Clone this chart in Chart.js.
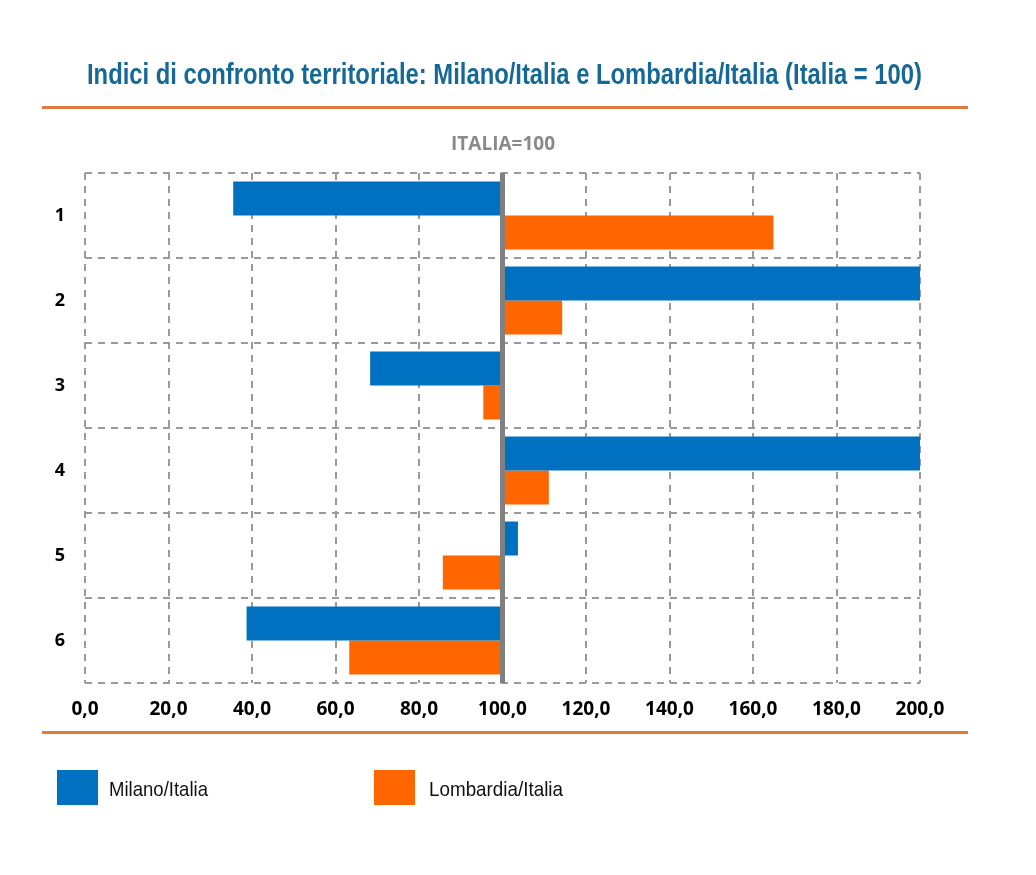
<!DOCTYPE html>
<html>
<head>
<meta charset="utf-8">
<script src="https://cdn.jsdelivr.net/npm/chart.js@4/dist/chart.umd.min.js"></script>
<style>
  html, body { margin: 0; padding: 0; background: #fff; }
  body { width: 1036px; height: 875px; position: relative; overflow: hidden; }
  #wrap { position: absolute; left: 0; top: 0; width: 1036px; height: 875px; }
  .fit { position: absolute; display: inline-block; white-space: nowrap; transform-origin: 0 0; }
  .title { left: 87px; top: 59px; line-height: 30px;
    font-family: "Liberation Sans", Arial, sans-serif; font-weight: bold;
    font-size: 30px; color: #166996; }
  .rule { position: absolute; left: 42px; width: 926px; height: 3px; background: #E07A3C; }
  .sub { position: absolute; left: 403px; width: 200px; top: 134px; line-height: 19px; text-align: center;
    font-family: "Open Sans", sans-serif; font-weight: bold; font-size: 19px; color: #8a8a8a; }
  .sw { position: absolute; top: 770px; width: 41px; height: 35px; }
  .lt { top: 778px; line-height: 21px; font-family: "Liberation Sans", Arial, sans-serif;
    font-size: 21px; color: #111; }
</style>
</head>
<body>
<div id="wrap"><canvas id="c" width="1036" height="875"></canvas></div>
<div class="fit title" data-w="835">Indici di confronto territoriale: Milano/Italia e Lombardia/Italia (Italia = 100)</div>
<div class="rule" style="top:106px"></div>
<div class="sub">ITALIA=100</div>
<div class="rule" style="top:731px"></div>
<div class="sw" style="left:57px;background:#0070C0"></div>
<div class="fit lt" style="left:109px" data-w="99">Milano/Italia</div>
<div class="sw" style="left:374px;background:#FF6600"></div>
<div class="fit lt" style="left:429px" data-w="134">Lombardia/Italia</div>
<script>
const categories = ["1", "2", "3", "4", "5", "6"];
const seriesNames = ["Milano/Italia", "Lombardia/Italia"];
const milano = [35.5, 200, 68.3, 200, 103.7, 38.7];
const lombardia = [164.9, 114.3, 95.4, 111.1, 85.7, 63.3];
const baseValue = 100;
const xTicks = [0, 20, 40, 60, 80, 100, 120, 140, 160, 180, 200];

document.querySelectorAll('.fit').forEach(el => {
  const target = parseFloat(el.dataset.w);
  const w = el.getBoundingClientRect().width;
  if (w > 0) el.style.transform = 'scaleX(' + (target / w) + ')';
});

const refLine = {
  id: 'refLine',
  afterDatasetsDraw(chart) {
    const x = chart.scales.x.getPixelForValue(baseValue);
    const a = chart.chartArea;
    const ctx = chart.ctx;
    ctx.save();
    ctx.strokeStyle = '#808080';
    ctx.lineWidth = 5;
    ctx.beginPath();
    ctx.moveTo(x, a.top);
    ctx.lineTo(x, a.bottom);
    ctx.stroke();
    ctx.restore();
  }
};

new Chart(document.getElementById('c'), {
  type: 'bar',
  data: {
    labels: categories,
    datasets: [
      { label: seriesNames[0], data: milano, base: baseValue, backgroundColor: '#0070C0',
        categoryPercentage: 0.8, barPercentage: 1.0 },
      { label: seriesNames[1], data: lombardia, base: baseValue, backgroundColor: '#FF6600',
        categoryPercentage: 0.8, barPercentage: 1.0 }
    ]
  },
  options: {
    indexAxis: 'y',
    responsive: false,
    animation: false,
    layout: { padding: { top: 173, left: 0, right: 116, bottom: 142 } },
    plugins: { legend: { display: false }, title: { display: false }, tooltip: { enabled: false } },
    scales: {
      x: {
        min: 0, max: 200,
        afterBuildTicks(scale) { scale.ticks = xTicks.map(v => ({ value: v })); },
        afterFit(scale) { scale.height = 50; },
        border: { display: false, dash: [7, 6] },
        grid: { color: '#9a9a9a', lineWidth: 2, drawTicks: false },
        ticks: {
          padding: 15,
          color: '#000',
          font: { family: 'Open Sans', weight: 'bold', size: 19 },
          callback: v => v.toFixed(1).replace('.', ',')
        }
      },
      y: {
        afterFit(scale) { scale.width = 85; },
        border: { display: false, dash: [7, 6] },
        grid: { color: '#9a9a9a', lineWidth: 2, drawTicks: false, offset: true },
        ticks: {
          padding: 20,
          color: '#000',
          font: { family: 'Open Sans', weight: 'bold', size: 18 }
        }
      }
    }
  },
  plugins: [refLine]
});
</script>
</body>
</html>
